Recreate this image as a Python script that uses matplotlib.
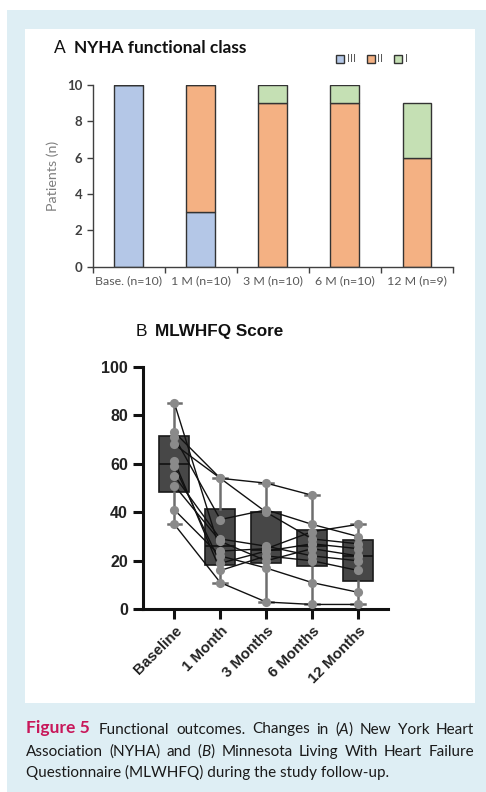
import matplotlib

matplotlib.use("Agg")
import matplotlib.pyplot as plt
import numpy as np
from matplotlib.patches import Rectangle

W, H = 486, 792

# ---- panel A: NYHA class counts ----
nyha_groups = ["Base. (n=10)", "1 M (n=10)", "3 M (n=10)", "6 M (n=10)", "12 M (n=9)"]
nyha_III = [10, 3, 0, 0, 0]
nyha_II = [0, 7, 9, 9, 6]
nyha_I = [0, 0, 1, 1, 3]

# ---- panel B: MLWHFQ score per patient (rows) per visit (columns) ----
mlwhfq_visits = ["Baseline", "1 Month", "3 Months", "6 Months", "12 Months"]
patient_a = [35, 11, 3, 2, 2]
patient_b = [41, 22, 17, 11, 7]
patient_c = [73, 54, 52, 47, np.nan]
patient_d = [71, 37, 41, 35, 30]
patient_e = [85, 24, 25, 32, 35]
patient_f = [68, 54, 40, 29, 27]
patient_g = [61, 16, 22, 20, 16]
patient_h = [59, 19, 24, 27, 25]
patient_i = [55, 29, 26, 22, 20]
patient_j = [51, 28, 20, 25, 22]
patients = [patient_a, patient_b, patient_c, patient_d, patient_e,
            patient_f, patient_g, patient_h, patient_i, patient_j]

BLUE, ORANGE, GREEN = "#b4c7e7", "#f4b183", "#c5e0b4"
PANEL_BG = "#deeef4"


def fx(px):
    return px / W


def fy(py):
    return 1 - py / H


fig = plt.figure(figsize=(W / 100, H / 100), dpi=100)
fig.patch.set_facecolor("white")
fig.add_artist(Rectangle((fx(7), 0), 1 - fx(7), fy(10), transform=fig.transFigure,
                         facecolor=PANEL_BG, edgecolor="none", zorder=-10))
fig.add_artist(Rectangle((fx(25), fy(703)), fx(475) - fx(25), fy(29) - fy(703),
                         transform=fig.transFigure, facecolor="white", edgecolor="none", zorder=-9))

# ================= panel A =================
axA = fig.add_axes([fx(92.7), fy(266.7), fx(453) - fx(92.7), fy(85) - fy(266.7)])
axA.patch.set_alpha(0)
x = np.arange(len(nyha_groups))
bw = 0.4
kw = dict(width=bw, edgecolor="#333333", linewidth=1.0)
axA.bar(x, nyha_III, color=BLUE, label="III", **kw)
axA.bar(x, nyha_II, bottom=nyha_III, color=ORANGE, label="II", **kw)
axA.bar(x, nyha_I, bottom=np.add(nyha_III, nyha_II), color=GREEN, label="I", **kw)
axA.set_xlim(-0.5, 4.5)
axA.set_ylim(0, 10)
axA.set_yticks(range(0, 11, 2))
for s in ["top", "right"]:
    axA.spines[s].set_visible(False)
for s in ["left", "bottom"]:
    axA.spines[s].set_color("#404040")
    axA.spines[s].set_linewidth(1.0)
axA.set_xticks(x)
axA.set_xticklabels(nyha_groups, fontsize=8.9, color="#595959", family="Lato")
axA.tick_params(axis="x", which="major", length=0, pad=6)
axA.set_xticks(np.arange(-0.5, 5, 1), minor=True)
axA.tick_params(axis="x", which="minor", length=4, width=1, color="#404040", direction="out")
axA.tick_params(axis="y", length=4, width=1, color="#404040", labelcolor="#404040")
for t in axA.get_yticklabels():
    t.set_fontweight("bold")
    t.set_family("Lato")
    t.set_fontsize(9.5)
axA.set_ylabel("Patients (n)", fontsize=10.3, color="#7f7f7f", family="Lato", labelpad=6)
leg = axA.legend(loc="center", bbox_to_anchor=(fx(372), fy(59)), bbox_transform=fig.transFigure,
                 ncol=3, frameon=False, handlelength=0.7, handleheight=0.7,
                 handletextpad=0.25, columnspacing=1.0, prop={"family": "Lato", "size": 8})
for t in leg.get_texts():
    t.set_color("#595959")

fig.text(fx(54), fy(48), "A", fontsize=12.5, family="Lato", va="center", color="#111111")
fig.text(fx(74), fy(48), "NYHA functional class", fontsize=12.4, family="Lato",
         fontweight="bold", va="center", color="#111111")

# ================= panel B =================
axB = fig.add_axes([fx(142.7), fy(609.3), fx(388) - fx(142.7), fy(366.7) - fy(609.3)])
axB.patch.set_alpha(0)
data = np.array(patients, dtype=float)
stats = []
for j in range(data.shape[1]):
    col = data[:, j][~np.isnan(data[:, j])]
    # Prism-style quartiles
    q1, med, q3 = np.percentile(col, [25, 50, 75], method="weibull")
    stats.append(dict(med=med, q1=q1, q3=q3, whislo=col.min(), whishi=col.max(), fliers=[]))
pos = np.arange(len(mlwhfq_visits))
axB.bxp(stats, positions=pos, widths=0.65, patch_artist=True, showfliers=False,
        boxprops=dict(facecolor="#474747", edgecolor="#1a1a1a", linewidth=1.2),
        medianprops=dict(color="#111111", linewidth=1.2),
        whiskerprops=dict(color="#6e6e6e", linewidth=1.8),
        capprops=dict(color="#6e6e6e", linewidth=1.8), capwidths=0.3, zorder=1)
for row in data:
    axB.plot(pos, row, color="#111111", lw=1.0, zorder=2)
for row in data:
    axB.plot(pos, row, ls="none", marker="o", ms=6.6, color="#8a8a8a", mec="none", zorder=3)

axB.set_xlim(-0.69, 4.65)
axB.set_ylim(0, 100)
axB.set_yticks(range(0, 101, 20))
for s in ["top", "right"]:
    axB.spines[s].set_visible(False)
for s in ["left", "bottom"]:
    axB.spines[s].set_linewidth(2.2)
    axB.spines[s].set_color("#111111")
axB.tick_params(axis="both", length=7, width=2.2, color="#111111", direction="out")
axB.set_xticks(pos)
axB.set_xticklabels(mlwhfq_visits, rotation=45, ha="right", rotation_mode="anchor",
                    fontsize=10.8, fontweight="bold", family="Liberation Sans", color="#222222")
for t in axB.get_yticklabels():
    t.set_fontweight("bold")
    t.set_family("Liberation Sans")
    t.set_fontsize(11.5)
    t.set_color("#222222")

fig.text(fx(136), fy(332), "B", fontsize=12.5, family="Liberation Sans", va="center", color="#111111")
fig.text(fx(155), fy(332), "MLWHFQ Score", fontsize=12.3, family="Liberation Sans",
         fontweight="bold", va="center", color="#111111")

# ================= caption (justified, last line ragged) =================
# run = (text, weight, style, colour, size[, glued-to-next])
caption_lines = [
    [("Figure 5", "bold", "normal", "#c8175a", 12.6), ("Functional", "normal", "normal", None, 11),
     ("outcomes.", "normal", "normal", None, 11), ("Changes", "normal", "normal", None, 11),
     ("in", "normal", "normal", None, 11), ("(", "normal", "normal", None, 11, True),
     ("A", "normal", "italic", None, 11, True), (")", "normal", "normal", None, 11),
     ("New", "normal", "normal", None, 11), ("York", "normal", "normal", None, 11),
     ("Heart", "normal", "normal", None, 11)],
    [("Association", "normal", "normal", None, 11), ("(NYHA)", "normal", "normal", None, 11),
     ("and", "normal", "normal", None, 11), ("(", "normal", "normal", None, 11, True),
     ("B", "normal", "italic", None, 11, True), (")", "normal", "normal", None, 11),
     ("Minnesota", "normal", "normal", None, 11), ("Living", "normal", "normal", None, 11),
     ("With", "normal", "normal", None, 11), ("Heart", "normal", "normal", None, 11),
     ("Failure", "normal", "normal", None, 11)],
    [("Questionnaire (MLWHFQ) during the study follow-up.", "normal", "normal", None, 11)],
]
caption_base = [733.5, 756, 777.5]
CAP_X0, CAP_X1 = 26.0, 474.0
FIG_GAP = 9.0
fig.canvas.draw()
renderer = fig.canvas.get_renderer()
for li, (runs, py) in enumerate(zip(caption_lines, caption_base)):
    texts, glue = [], []
    for run in runs:
        txt, weight, style, color, size = run[:5]
        t = fig.text(fx(CAP_X0), fy(py), txt, fontsize=size, family="Lato", fontweight=weight,
                     fontstyle=style, color=color or "#1a1a1a", va="baseline", ha="left")
        texts.append(t)
        glue.append(len(run) > 5)
    widths = [t.get_window_extent(renderer).width for t in texts]
    gaps = [k for k in range(len(texts) - 1) if not glue[k]]
    fixed = {0: FIG_GAP} if li == 0 else {}
    free = [k for k in gaps if k not in fixed]
    last = li == len(caption_lines) - 1
    if last or not free:
        gap = 3.3
    else:
        gap = (CAP_X1 - CAP_X0 - sum(widths) - sum(fixed.values())) / len(free)
    cx = CAP_X0
    for k, (t, w) in enumerate(zip(texts, widths)):
        t.set_x(fx(cx))
        cx += w
        if k in gaps:
            cx += fixed.get(k, gap)

fig.savefig("out.png", dpi=100, facecolor=fig.get_facecolor())
